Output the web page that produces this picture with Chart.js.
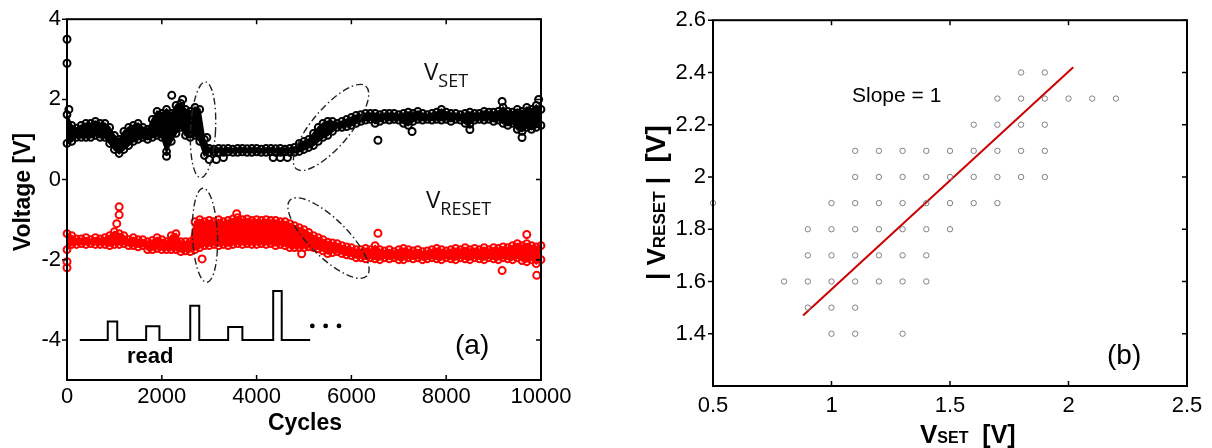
<!DOCTYPE html>
<html>
<head>
<meta charset="utf-8">
<script src="https://cdn.jsdelivr.net/npm/chart.js@4"></script>
<style>
  html, body { margin: 0; padding: 0; background: #fff; }
  #chartA { position: absolute; left: 0; top: 0; }
  #chartB { position: absolute; left: 600px; top: 0; }
</style>
</head>
<body>
<canvas id="chartA" width="600" height="448"></canvas>
<canvas id="chartB" width="612" height="448"></canvas>
<script>
// ---- panel (a): V_SET / V_RESET vs cycles (band edges read every 100 cycles) ----
const cycles = [
  0, 100, 200, 300, 400, 500, 600, 700, 800, 900,
  1000, 1100, 1200, 1300, 1400, 1500, 1600, 1700, 1800, 1900,
  2000, 2100, 2200, 2300, 2400, 2500, 2600, 2700, 2800, 2900,
  3000, 3100, 3200, 3300, 3400, 3500, 3600, 3700, 3800, 3900,
  4000, 4100, 4200, 4300, 4400, 4500, 4600, 4700, 4800, 4900,
  5000, 5100, 5200, 5300, 5400, 5500, 5600, 5700, 5800, 5900,
  6000, 6100, 6200, 6300, 6400, 6500, 6600, 6700, 6800, 6900,
  7000, 7100, 7200, 7300, 7400, 7500, 7600, 7700, 7800, 7900,
  8000, 8100, 8200, 8300, 8400, 8500, 8600, 8700, 8800, 8900,
  9000, 9100, 9200, 9300, 9400, 9500, 9600, 9700, 9800, 9900,
  10000
];
const setHi = [
  1.62, 1.35, 1.28, 1.35, 1.40, 1.40, 1.45, 1.40, 1.40, 1.30,
  1.10, 1.00, 1.20, 1.30, 1.35, 1.40, 1.30, 1.25, 1.50, 1.70,
  1.65, 1.75, 1.65, 1.85, 1.90, 1.75, 1.70, 1.80, 1.75, 1.00,
  0.78, 0.76, 0.78, 0.77, 0.78, 0.76, 0.78, 0.78, 0.77, 0.78,
  0.78, 0.76, 0.78, 0.78, 0.77, 0.78, 0.76, 0.78, 0.80, 0.90,
  0.95, 1.00, 1.15, 1.30, 1.40, 1.45, 1.45, 1.40, 1.45, 1.50,
  1.55, 1.60, 1.62, 1.65, 1.65, 1.65, 1.62, 1.65, 1.65, 1.65,
  1.62, 1.65, 1.68, 1.65, 1.70, 1.65, 1.62, 1.65, 1.68, 1.75,
  1.68, 1.65, 1.65, 1.62, 1.65, 1.68, 1.65, 1.65, 1.70, 1.68,
  1.68, 1.70, 1.80, 1.70, 1.68, 1.75, 1.70, 1.80, 1.75, 1.85,
  1.75
];
const setLo = [
  0.90, 0.95, 1.05, 1.05, 1.05, 1.05, 1.10, 1.05, 1.05, 0.90,
  0.75, 0.65, 0.75, 0.85, 0.95, 1.00, 1.05, 1.00, 1.05, 1.10,
  1.05, 0.70, 0.95, 1.15, 1.30, 1.10, 1.05, 1.10, 0.95, 0.60,
  0.68, 0.69, 0.68, 0.68, 0.69, 0.68, 0.68, 0.69, 0.68, 0.68,
  0.69, 0.68, 0.68, 0.69, 0.68, 0.68, 0.69, 0.68, 0.68, 0.70,
  0.75, 0.80, 0.85, 0.95, 1.05, 1.10, 1.20, 1.30, 1.30, 1.32,
  1.35, 1.40, 1.45, 1.48, 1.50, 1.40, 1.45, 1.50, 1.48, 1.50,
  1.48, 1.40, 1.35, 1.45, 1.50, 1.48, 1.50, 1.48, 1.50, 1.48,
  1.50, 1.45, 1.50, 1.48, 1.40, 1.38, 1.48, 1.50, 1.48, 1.50,
  1.45, 1.48, 1.40, 1.35, 1.40, 1.25, 1.20, 1.30, 1.25, 1.30,
  1.35
];
const resetHi = [
  -1.35, -1.40, -1.48, -1.48, -1.45, -1.50, -1.45, -1.48, -1.45, -1.40,
  -1.30, -1.35, -1.40, -1.50, -1.45, -1.50, -1.50, -1.55, -1.52, -1.45,
  -1.50, -1.55, -1.40, -1.35, -1.55, -1.55, -1.55, -1.05, -1.00, -1.05,
  -1.02, -1.05, -1.00, -1.05, -1.02, -0.98, -0.95, -1.00, -0.98, -1.02,
  -1.00, -1.02, -1.00, -1.02, -1.02, -1.05, -1.05, -1.10, -1.15, -1.20,
  -1.25, -1.32, -1.40, -1.45, -1.50, -1.56, -1.58, -1.60, -1.65, -1.68,
  -1.70, -1.75, -1.75, -1.72, -1.75, -1.65, -1.75, -1.78, -1.75, -1.80,
  -1.75, -1.72, -1.75, -1.78, -1.75, -1.80, -1.78, -1.75, -1.72, -1.75,
  -1.78, -1.75, -1.72, -1.75, -1.70, -1.75, -1.72, -1.75, -1.70, -1.75,
  -1.70, -1.72, -1.68, -1.70, -1.65, -1.60, -1.65, -1.60, -1.65, -1.68,
  -1.65
];
const resetLo = [
  -1.75, -1.62, -1.62, -1.60, -1.62, -1.60, -1.62, -1.62, -1.62, -1.65,
  -1.62, -1.62, -1.60, -1.65, -1.65, -1.68, -1.65, -1.75, -1.75, -1.72,
  -1.75, -1.75, -1.75, -1.75, -1.80, -1.78, -1.80, -1.75, -1.70, -1.65,
  -1.65, -1.62, -1.65, -1.62, -1.65, -1.62, -1.60, -1.62, -1.60, -1.62,
  -1.62, -1.60, -1.62, -1.60, -1.65, -1.62, -1.65, -1.70, -1.70, -1.70,
  -1.70, -1.68, -1.70, -1.73, -1.78, -1.85, -1.82, -1.80, -1.85, -1.88,
  -1.90, -1.95, -1.95, -1.98, -1.95, -1.98, -2.00, -1.95, -1.98, -1.95,
  -2.00, -2.00, -1.95, -1.98, -1.95, -2.00, -1.98, -1.95, -1.98, -2.00,
  -1.95, -1.98, -2.00, -1.95, -1.98, -2.00, -1.95, -1.98, -2.00, -1.95,
  -1.98, -2.00, -1.95, -1.98, -2.00, -1.95, -2.02, -2.05, -2.00, -2.10,
  -2.00
];
// isolated circles outside the bands
const setOutC = [0, 0, 40, 2100, 2210, 2440, 2950, 3000, 3150, 3300, 4350, 4500, 4650, 6560, 7280, 8500, 9180, 9600, 9950];
const setOutV = [3.5, 2.9, 1.75, 0.58, 2.1, 2.0, 1.05, 0.5, 0.5, 0.55, 0.55, 0.55, 0.55, 0.98, 1.2, 1.25, 1.95, 1.05, 2.0];
const resetOutC = [0, 0, 1100, 1100, 1050, 2850, 3580, 4950, 6560, 9180, 9700, 9910];
const resetOutV = [-2.05, -2.2, -0.68, -0.88, -1.1, -1.98, -0.85, -1.85, -1.34, -2.27, -1.37, -2.39];
// pulse train sketch ("read")
const pulseC = [270, 860, 860, 1060, 1060, 1670, 1670, 1950, 1950, 2600, 2600, 2790, 2790, 3400, 3400, 3700, 3700, 4350, 4350, 4530, 4530, 5130];
const pulseV = [-4, -4, -3.54, -3.54, -4, -4, -3.66, -3.66, -4, -4, -3.15, -3.15, -4, -4, -3.68, -3.68, -4, -4, -2.78, -2.78, -4, -4];
const dotsC = [5176, 5457, 5738];
const dotsV = [-3.65, -3.65, -3.65];

const ticksCyclesA = [0, 2000, 4000, 6000, 8000, 10000];
const ticksVoltA = [-4, -2, 0, 2, 4];

// ---- panel (b): |V_RESET| vs V_SET ----
const vsetB = [
  1.8, 1.9,
  1.7, 1.8, 1.9, 2.0, 2.1, 2.2,
  1.6, 1.7, 1.8, 1.9,
  1.1, 1.2, 1.3, 1.4, 1.5, 1.6, 1.7, 1.8, 1.9,
  1.1, 1.2, 1.3, 1.4, 1.5, 1.6, 1.7, 1.8, 1.9,
  0.5, 1.0, 1.1, 1.2, 1.3, 1.4, 1.5, 1.6, 1.7,
  0.9, 1.0, 1.1, 1.2, 1.3, 1.4, 1.5,
  0.9, 1.0, 1.1, 1.2, 1.3, 1.4,
  0.8, 0.9, 1.0, 1.1, 1.2, 1.3, 1.4,
  0.9, 1.0, 1.1,
  1.0, 1.1, 1.3
];
const vresetB = [
  2.4, 2.4,
  2.3, 2.3, 2.3, 2.3, 2.3, 2.3,
  2.2, 2.2, 2.2, 2.2,
  2.1, 2.1, 2.1, 2.1, 2.1, 2.1, 2.1, 2.1, 2.1,
  2.0, 2.0, 2.0, 2.0, 2.0, 2.0, 2.0, 2.0, 2.0,
  1.9, 1.9, 1.9, 1.9, 1.9, 1.9, 1.9, 1.9, 1.9,
  1.8, 1.8, 1.8, 1.8, 1.8, 1.8, 1.8,
  1.7, 1.7, 1.7, 1.7, 1.7, 1.7,
  1.6, 1.6, 1.6, 1.6, 1.6, 1.6, 1.6,
  1.5, 1.5, 1.5,
  1.4, 1.4, 1.4
];
const fitX = [0.88, 2.02];
const fitY = [1.47, 2.42];

const ticksVsetB = [0.5, 1, 1.5, 2, 2.5];
const ticksVresetB = [1.4, 1.6, 1.8, 2, 2.2, 2.4, 2.6];

const pts = (xs, ys) => xs.map((x, i) => ({ x: x, y: ys[i] }));
const fixTicks = arr => scale => { scale.ticks = arr.map(v => ({ value: v })); };
const tickFont = { family: 'Liberation Sans', size: 22 };

// box around plot area with MATLAB style ticks
const boxPlugin = {
  id: 'box',
  afterDatasetsDraw(chart) {
    const { ctx, chartArea: a, scales: { x, y } } = chart;
    ctx.save();
    ctx.strokeStyle = '#000';
    ctx.lineWidth = 1.5;
    ctx.beginPath();
    x.ticks.forEach(t => {
      const px = x.getPixelForValue(t.value);
      ctx.moveTo(px, a.bottom); ctx.lineTo(px, a.bottom - 5);
      ctx.moveTo(px, a.top); ctx.lineTo(px, a.top + 5);
    });
    y.ticks.forEach(t => {
      const py = y.getPixelForValue(t.value);
      ctx.moveTo(a.left - 5, py); ctx.lineTo(a.left, py);
      ctx.moveTo(a.right, py); ctx.lineTo(a.right - 5, py);
    });
    ctx.stroke();
    ctx.lineWidth = 2;
    ctx.strokeRect(a.left, a.top, a.right - a.left, a.bottom - a.top);
    ctx.restore();
  }
};

// dash-dot ellipses: centre in data units, radii in pixels
const ellipsesA = [
  { c: 2870, v: 1.24, rx: 12.5, ry: 48, rot: 0.05 },
  { c: 2910, v: -1.39, rx: 12.5, ry: 47, rot: -0.04 },
  { c: 5570, v: 1.30, rx: 54, ry: 19, rot: -0.87 },
  { c: 5517, v: -1.46, rx: 54, ry: 19, rot: 0.78 }
];

function subText(ctx, x, y, parts) {
  // parts: [text, font, dy]
  parts.forEach(p => {
    ctx.font = p[1];
    ctx.fillText(p[0], x, y + (p[2] || 0));
    x += ctx.measureText(p[0]).width;
  });
}

const annotA = {
  id: 'annotA',
  afterDatasetsDraw(chart) {
    const { ctx, scales: { x, y } } = chart;
    ctx.save();
    ctx.strokeStyle = '#222';
    ctx.lineWidth = 1.4;
    ctx.setLineDash([7, 3, 1.5, 3]);
    ellipsesA.forEach(e => {
      ctx.beginPath();
      ctx.ellipse(x.getPixelForValue(e.c), y.getPixelForValue(e.v), e.rx, e.ry, e.rot, 0, Math.PI * 2);
      ctx.stroke();
    });
    ctx.restore();
  },
  afterDraw(chart) {
    const ctx = chart.ctx;
    ctx.save();
    ctx.fillStyle = '#111';
    ctx.textAlign = 'left';
    ctx.textBaseline = 'alphabetic';
    subText(ctx, 424, 80, [['V', '24px "Open Sans"'], ['SET', '18px "Open Sans"', 7]]);
    subText(ctx, 426, 208, [['V', '24px "Open Sans"'], ['RESET', '18px "Open Sans"', 7]]);
    ctx.fillStyle = '#000';
    ctx.font = '28px "Liberation Sans"';
    ctx.fillText('(a)', 455, 354);
    ctx.font = 'bold 22px "Liberation Sans"';
    ctx.fillText('read', 127, 363);
    ctx.textAlign = 'center';
    ctx.font = 'bold 23px "Liberation Sans"';
    ctx.fillText('Cycles', 305, 430);
    ctx.translate(30, 192);
    ctx.rotate(-Math.PI / 2);
    ctx.fillText('Voltage [V]', 0, 0);
    ctx.restore();
  }
};

const annotB = {
  id: 'annotB',
  afterDraw(chart) {
    const ctx = chart.ctx;
    ctx.save();
    ctx.fillStyle = '#000';
    ctx.textAlign = 'left';
    ctx.textBaseline = 'alphabetic';
    ctx.font = '21px "Liberation Sans"';
    ctx.fillText('Slope = 1', 252, 102);
    ctx.font = '28px "Liberation Sans"';
    ctx.fillText('(b)', 507, 364);
    subText(ctx, 320, 443, [['V', 'bold 26px "Liberation Sans"'], ['SET', 'bold 16px "Liberation Sans"'], ['  [V]', 'bold 25px "Liberation Sans"']]);
    ctx.translate(65, 280);
    ctx.rotate(-Math.PI / 2);
    subText(ctx, 0, 0, [['| ', 'bold 26px "Liberation Sans"'], ['V', 'bold 26px "Liberation Sans"'], ['RESET', 'bold 17px "Liberation Sans"'], [' |  ', 'bold 26px "Liberation Sans"'], ['[V]', 'bold 28px "Liberation Sans"']]);
    ctx.restore();
  }
};

const edge = (data, color, fill) => ({
  data: data, borderColor: color, backgroundColor: color, borderWidth: 2,
  pointRadius: 3.4, pointBorderWidth: 2, pointBackgroundColor: 'rgba(0,0,0,0)',
  pointBorderColor: color, fill: fill, tension: 0, clip: false
});
const outliers = (data, color) => ({
  data: data, showLine: false, pointRadius: 3.5, pointBorderWidth: 2,
  pointBorderColor: color, pointBackgroundColor: 'rgba(0,0,0,0)', clip: false
});

new Chart(document.getElementById('chartA'), {
  type: 'line',
  data: {
    datasets: [
      edge(pts(cycles, setLo), '#000', false),
      edge(pts(cycles, setHi), '#000', '-1'),
      edge(pts(cycles, resetLo), '#ff0000', false),
      edge(pts(cycles, resetHi), '#ff0000', '-1'),
      outliers(pts(setOutC, setOutV), '#000'),
      outliers(pts(resetOutC, resetOutV), '#ff0000'),
      { data: pts(pulseC, pulseV), borderColor: '#000', borderWidth: 2, pointRadius: 0, fill: false, tension: 0 },
      { data: pts(dotsC, dotsV), showLine: false, pointRadius: 2.4, pointBorderWidth: 0, pointBackgroundColor: '#000' }
    ]
  },
  options: {
    responsive: false,
    animation: false,
    events: [],
    layout: { padding: { left: 0, top: 15, right: 59, bottom: 0 } },
    plugins: { legend: { display: false }, tooltip: { enabled: false } },
    scales: {
      x: {
        type: 'linear', min: 0, max: 10000,
        afterBuildTicks: fixTicks(ticksCyclesA),
        afterFit: s => { s.height = 68; },
        grid: { display: false, drawTicks: false }, border: { display: false },
        ticks: { color: '#000', font: tickFont, padding: 4, maxRotation: 0, autoSkip: false, callback: v => String(v) }
      },
      y: {
        type: 'linear', min: -5, max: 4,
        afterBuildTicks: fixTicks(ticksVoltA),
        afterFit: s => { s.width = 67; },
        grid: { display: false, drawTicks: false }, border: { display: false },
        ticks: { color: '#000', font: tickFont, padding: 6, autoSkip: false, callback: v => String(v) }
      }
    }
  },
  plugins: [boxPlugin, annotA]
});

new Chart(document.getElementById('chartB'), {
  type: 'line',
  data: {
    datasets: [
      { data: pts(vsetB, vresetB), showLine: false, pointRadius: 2.7, pointBorderWidth: 1, pointBorderColor: '#808080', pointBackgroundColor: 'rgba(0,0,0,0)', clip: false },
      { data: pts(fitX, fitY), borderColor: '#cc0000', borderWidth: 2, pointRadius: 0, fill: false, tension: 0 }
    ]
  },
  options: {
    responsive: false,
    animation: false,
    events: [],
    layout: { padding: { left: 0, top: 15, right: 25, bottom: 0 } },
    plugins: { legend: { display: false }, tooltip: { enabled: false } },
    scales: {
      x: {
        type: 'linear', min: 0.5, max: 2.5,
        afterBuildTicks: fixTicks(ticksVsetB),
        afterFit: s => { s.height = 62; },
        grid: { display: false, drawTicks: false }, border: { display: false },
        ticks: { color: '#000', font: tickFont, padding: 7, maxRotation: 0, autoSkip: false, callback: v => String(v) }
      },
      y: {
        type: 'linear', min: 1.2, max: 2.6,
        afterBuildTicks: fixTicks(ticksVresetB),
        afterFit: s => { s.width = 113; },
        grid: { display: false, drawTicks: false }, border: { display: false },
        ticks: { color: '#000', font: tickFont, padding: 7, autoSkip: false, callback: v => String(v) }
      }
    }
  },
  plugins: [boxPlugin, annotB]
});
</script>
</body>
</html>
